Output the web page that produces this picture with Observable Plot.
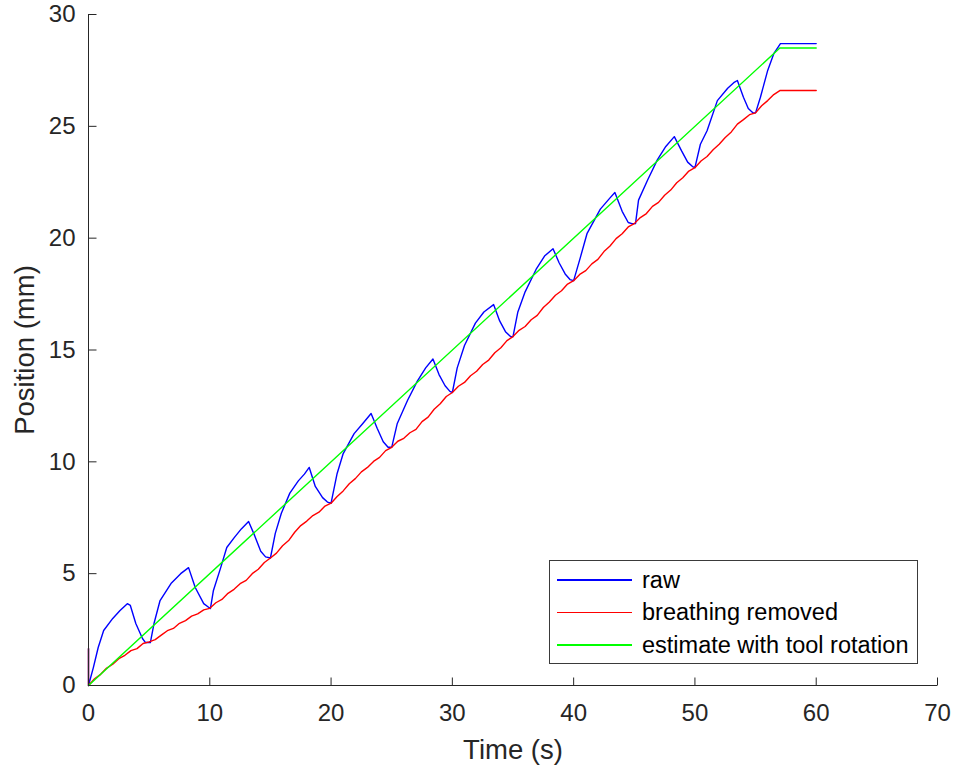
<!DOCTYPE html>
<html>
<head>
<meta charset="utf-8">
<script src="https://cdn.jsdelivr.net/npm/d3@7"></script>
<script src="https://cdn.jsdelivr.net/npm/@observablehq/plot@0.6"></script>
<style>
  html, body { margin: 0; padding: 0; background: #fff; }
  #wrap { position: relative; width: 955px; height: 768px; font-family: "Liberation Sans", Arial, Helvetica, sans-serif; }
  #legend { position: absolute; left: 549px; top: 560px; width: 369px; height: 104px; border: 1px solid #3a3a3a; background: #fff; box-sizing: border-box; }
  .row { position: absolute; left: 0; height: 32px; display: flex; align-items: center; }
  .swatch { width: 75px; height: 1.6px; margin-left: 7px; }
  .lab { margin-left: 10px; font-size: 23.5px; color: #000; white-space: nowrap; }
</style>
</head>
<body>
<div id="wrap"></div>
<script>
// ---- data ----
const seriesNames = ["raw", "breathing removed", "estimate with tool rotation"];
const seriesColors = ["#0000ff", "#ff0000", "#00ff00"];

const rawTime = [0, 0, 0, 0.4, 0.8, 1.25, 2.0, 2.6, 3.2, 3.45, 3.9, 4.45, 4.7, 5.1,
  5.4, 5.9, 6.8, 7.6, 8.25, 8.8, 9.5, 9.9, 10.05,
  10.3, 10.9, 11.4, 12.0, 12.6, 13.2, 13.7, 14.2, 14.6, 15.0,
  15.4, 15.9, 16.6, 17.3, 17.8, 18.2, 18.7, 19.3, 19.7, 20.0,
  20.5, 21.0, 21.9, 22.6, 23.3, 23.8, 24.3, 24.7, 25.0,
  25.45, 26.3, 27.1, 27.8, 28.4, 28.9, 29.4, 29.8, 30.0,
  30.4, 31.0, 31.9, 32.6, 33.4, 33.9, 34.4, 34.8, 35.0,
  35.4, 36.0, 36.9, 37.6, 38.3, 38.8, 39.3, 39.7, 40.0,
  40.55, 41.1, 42.2, 43.0, 43.4, 44.0, 44.5, 44.8, 45.1,
  45.35, 46.1, 46.9, 47.6, 48.3, 48.9, 49.4, 49.8, 50.0,
  50.45, 51.0, 51.85, 52.7, 53.2, 53.5, 54.0, 54.4, 54.8, 55.0,
  55.4, 56.0, 56.5, 57.05, 60.0];
const rawPos = [0, 1.65, 0, 0.8, 1.7, 2.46, 3.0, 3.35, 3.66, 3.58, 2.77, 2.1, 1.92, 1.92,
  2.77, 3.8, 4.56, 5.0, 5.27, 4.38, 3.66, 3.5, 3.44,
  4.25, 5.27, 6.17, 6.6, 7.0, 7.33, 6.7, 6.0, 5.75, 5.7,
  6.8, 7.7, 8.6, 9.15, 9.45, 9.75, 8.9, 8.4, 8.2, 8.15,
  9.48, 10.37, 11.26, 11.7, 12.16, 11.5, 10.9, 10.65, 10.65,
  11.7, 12.74, 13.6, 14.2, 14.6, 13.9, 13.4, 13.15, 13.1,
  14.2, 15.2, 16.2, 16.7, 17.03, 16.3, 15.8, 15.6, 15.6,
  16.7, 17.6, 18.6, 19.2, 19.53, 18.9, 18.4, 18.15, 18.1,
  19.13, 20.2, 21.3, 21.8, 22.04, 21.2, 20.7, 20.65, 20.65,
  21.7, 22.6, 23.5, 24.1, 24.54, 23.9, 23.4, 23.2, 23.15,
  24.2, 24.8, 26.15, 26.7, 26.95, 27.05, 26.3, 25.8, 25.6, 25.6,
  26.3, 27.5, 28.25, 28.7, 28.7];

const breathTime = [0, 0, 0.5, 1, 1.5, 2, 2.5, 3, 3.5, 4, 4.5, 5,
  5.5, 6, 6.5, 7, 7.5, 8, 8.5, 9, 9.5, 10,
  10.5, 11, 11.5, 12, 12.5, 13, 13.5, 14, 14.5, 15,
  15.5, 16, 16.5, 17, 17.5, 18, 18.5, 19, 19.5, 20,
  20.5, 21, 21.5, 22, 22.5, 23, 23.5, 24, 24.5, 25,
  25.5, 26, 26.5, 27, 27.5, 28, 28.5, 29, 29.5, 30,
  30.5, 31, 31.5, 32, 32.5, 33, 33.5, 34, 34.5, 35,
  35.5, 36, 36.5, 37, 37.5, 38, 38.5, 39, 39.5, 40,
  40.5, 41, 41.5, 42, 42.5, 43, 43.5, 44, 44.5, 45,
  45.5, 46, 46.5, 47, 47.5, 48, 48.5, 49, 49.5, 50,
  50.5, 51, 51.5, 52, 52.5, 53, 53.5, 54, 54.5, 55,
  55.5, 56, 56.5, 57, 60];
const breathPos = [1.65, 0, 0.3, 0.5, 0.78, 0.95, 1.2, 1.35, 1.56, 1.65, 1.88, 1.95,
  2.05, 2.25, 2.45, 2.55, 2.78, 2.9, 3.1, 3.2, 3.38, 3.45,
  3.7, 3.85, 4.12, 4.3, 4.55, 4.7, 5.0, 5.2, 5.5, 5.7,
  5.92, 6.25, 6.48, 6.85, 7.15, 7.35, 7.6, 7.75, 8.02, 8.15,
  8.45, 8.7, 9.02, 9.25, 9.55, 9.75, 10.02, 10.2, 10.5, 10.65,
  10.92, 11.05, 11.3, 11.45, 11.8, 12.0, 12.35, 12.6, 12.92, 13.1,
  13.38, 13.55, 13.85, 14.05, 14.35, 14.55, 14.88, 15.1, 15.42, 15.6,
  15.88, 16.05, 16.35, 16.55, 16.9, 17.15, 17.45, 17.65, 17.95, 18.1,
  18.38, 18.55, 18.85, 19.05, 19.4, 19.65, 19.98, 20.2, 20.5, 20.65,
  20.92, 21.1, 21.42, 21.6, 21.92, 22.15, 22.48, 22.7, 23.0, 23.15,
  23.45, 23.65, 23.95, 24.2, 24.5, 24.75, 25.1, 25.3, 25.52, 25.6,
  25.92, 26.15, 26.42, 26.6, 26.6];

const estTime = [0, 57.0, 60];
const estPos = [0, 28.5, 28.5];

const xTicks = [0, 10, 20, 30, 40, 50, 60, 70];
const yTicks = [0, 5, 10, 15, 20, 25, 30];
const xLabel = "Time (s)";
const yLabel = "Position (mm)";

// ---- build tables ----
const toRows = (ts, vs) => ts.map((t, i) => ({t, v: vs[i]}));
const raw = toRows(rawTime, rawPos);
const breath = toRows(breathTime, breathPos);
const est = toRows(estTime, estPos);

// inward tick marks (MATLAB style) as custom symbols
const TICK = 8;
const tickUp = {draw(ctx) { ctx.moveTo(0, 0); ctx.lineTo(0, -TICK); }};
const tickRight = {draw(ctx) { ctx.moveTo(0, 0); ctx.lineTo(TICK, 0); }};

const axisColor = "#262626";
const chart = Plot.plot({
  width: 955,
  height: 768,
  marginLeft: 88,
  marginRight: 18,
  marginTop: 14,
  marginBottom: 83,
  style: {fontFamily: '"Liberation Sans", Arial, Helvetica, sans-serif', color: axisColor, background: "#fff"},
  x: {domain: [0, 70], ticks: xTicks},
  y: {domain: [0, 30], ticks: yTicks},
  marks: [
    Plot.line(raw, {x: "t", y: "v", stroke: seriesColors[0], strokeWidth: 1.4}),
    Plot.line(breath, {x: "t", y: "v", stroke: seriesColors[1], strokeWidth: 1.4}),
    Plot.line(est, {x: "t", y: "v", stroke: seriesColors[2], strokeWidth: 1.4}),
    Plot.axisX({ticks: xTicks, tickSize: 0, tickPadding: 18, fontSize: 24, label: null, fill: axisColor}),
    Plot.axisY({ticks: yTicks, tickSize: 0, tickPadding: 13, fontSize: 24, label: null, fill: axisColor}),
    Plot.dot(xTicks, {x: d => d, y: () => 0, symbol: tickUp, r: 3, fill: "none", stroke: axisColor, strokeWidth: 1}),
    Plot.dot(yTicks, {x: () => 0, y: d => d, symbol: tickRight, r: 3, fill: "none", stroke: axisColor, strokeWidth: 1}),
    Plot.ruleY([0], {stroke: axisColor, strokeWidth: 1}),
    Plot.ruleX([0], {stroke: axisColor, strokeWidth: 1}),
    Plot.text([xLabel], {frameAnchor: "bottom", dy: 54, textAnchor: "middle", lineAnchor: "top", fontSize: 27.5, fill: axisColor, text: d => d}),
    Plot.text([yLabel], {frameAnchor: "left", dx: -63, rotate: -90, textAnchor: "middle", lineAnchor: "middle", fontSize: 27.5, fill: axisColor, text: d => d})
  ]
});
const wrap = document.getElementById("wrap");
wrap.appendChild(chart);

// ---- legend ----
const legend = document.createElement("div");
legend.id = "legend";
seriesNames.forEach((name, i) => {
  const row = document.createElement("div");
  row.className = "row";
  row.style.top = (3 + i * 32.5) + "px";
  const sw = document.createElement("div");
  sw.className = "swatch";
  sw.style.background = seriesColors[i];
  const lab = document.createElement("span");
  lab.className = "lab";
  lab.textContent = name;
  row.appendChild(sw);
  row.appendChild(lab);
  legend.appendChild(row);
});
wrap.appendChild(legend);
</script>
</body>
</html>
